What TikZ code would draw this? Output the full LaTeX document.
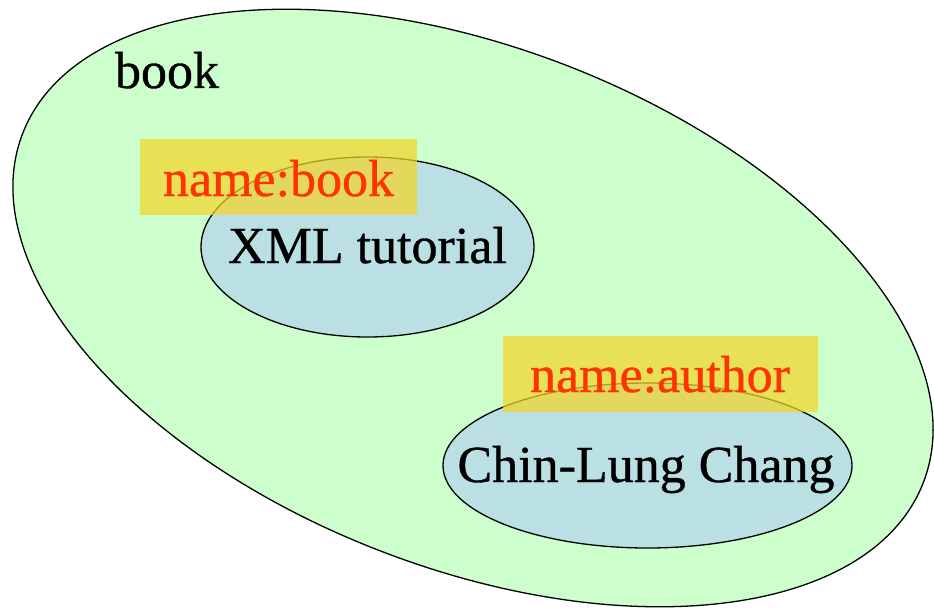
\documentclass[tikz,border=0pt]{standalone}
\usepackage{fontspec}
\newfontfamily\labelfont[FakeBold=0.7]{Liberation Serif}
\usetikzlibrary{shapes.geometric}
\definecolor{setgreen}{HTML}{CCFFCC}
\definecolor{setblue}{HTML}{BAE0E3}
\definecolor{tagyellow}{RGB}{244,214,40}
\definecolor{tagred}{HTML}{FF3300}
\tikzset{
  setshape/.style={draw=black, line width=1.3pt, ellipse, inner sep=0pt},
  tagbox/.style={fill=tagyellow, fill opacity=0.72, draw=none, inner sep=0pt},
  bigtext/.style={font=\labelfont\fontsize{52}{60}\selectfont, inner sep=0pt, anchor=base},
  tagtext/.style={bigtext, text=tagred},
}
\begin{document}
\begin{tikzpicture}[x=1pt, y=-1pt]
  \useasboundingbox (0,0) rectangle (934,610);
  % outer set
  \node[setshape, fill=setgreen, rotate=-21.2, minimum width=966pt, minimum height=520pt] (outer) at (473,308) {};
  \node[bigtext] (booklabel) at (167,88) {book};
  % inner sets
  \node[setshape, fill=setblue, minimum width=333pt, minimum height=180pt] (titleset) at (367.5,247) {};
  \node[setshape, fill=setblue, minimum width=409pt, minimum height=165pt] (authorset) at (647.5,465.5) {};
  \node[bigtext] (titletext) at (367.5,263) {XML tutorial};
  \node[bigtext] (authortext) at (646,482) {Chin-Lung Chang};
  % name tags
  \fill[tagbox] (140,139) rectangle (417,215);
  \fill[tagbox] (503,336) rectangle (818,412);
  \node[tagtext] (booktag) at (278.5,196) {name:book};
  \node[tagtext] (authortag) at (660,392) {name:author};
\end{tikzpicture}
\end{document}
